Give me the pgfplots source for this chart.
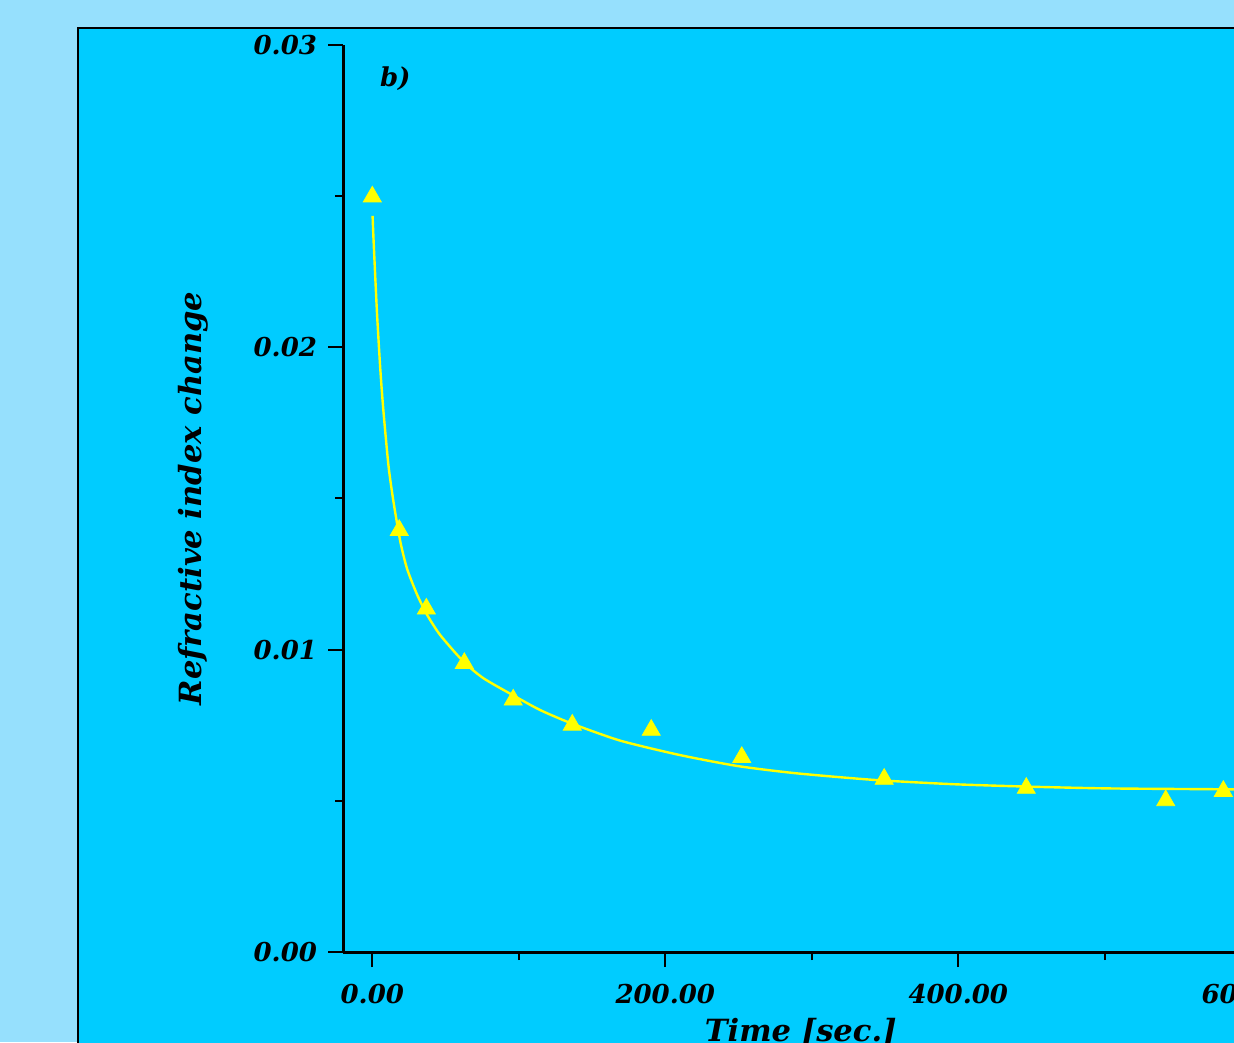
\documentclass[border=0pt]{standalone}
\usepackage{fontspec}
\setmainfont{DejaVu Serif}
\usepackage{pgfplots}
\pgfplotsset{compat=1.18}
\definecolor{outerbg}{HTML}{96E0FD}
\definecolor{innerbg}{HTML}{00CCFF}
\definecolor{fitcol}{HTML}{FFFF00}
\begin{document}
\begin{tikzpicture}
\useasboundingbox (0,0) rectangle (617pt,521pt);
\clip (0,0) rectangle (617pt,521pt);
\fill[outerbg] (0,0) rectangle (617pt,521pt);
\draw[line width=1pt, fill=innerbg] (39pt,507pt) rectangle (700pt,-50pt);
\begin{axis}[
    at={(171.5pt,45pt)}, anchor=south west,
    scale only axis, width=457.8pt, height=453.5pt,
    xmin=-20, xmax=605, ymin=0, ymax=0.03,
    axis x line*=bottom, axis y line*=left,
    axis line style={-, line width=1.5pt},
    xtick={0,200,400,600}, minor xtick={100,300,500},
    ytick={0,0.01,0.02,0.03}, minor ytick={0.005,0.015,0.025},
    scaled y ticks=false, scaled x ticks=false,
    tick align=outside,
    major tick length=7.5pt, minor tick length=4pt,
    tick style={black, line width=1pt},
    ticklabel style={font=\fontsize{13}{15}\selectfont\bfseries\itshape},
    xticklabel style={yshift=-5pt},
    yticklabel style={xshift=-2pt},
    /pgf/number format/.cd, fixed, fixed zerofill, precision=2, assume math mode=true,
    /pgfplots/.cd,
    every axis y label/.style={at={(axis description cs:-0.1638,0.5)}, rotate=90, anchor=center},
    every axis x label/.style={at={(axis description cs:0.5,-0.0882)}, anchor=center},
    label style={font=\fontsize{15.3}{18}\selectfont\bfseries\itshape},
    xlabel={Time [sec.]},
    ylabel={Refractive index change},
    clip=false,
]
% fitted curve
\addplot[fitcol, line width=1.2pt, smooth, tension=0.4] coordinates {
    (0.2,0.02435)(0.9,0.02350)(3.2,0.02114)(5.5,0.01925)(7.7,0.01783)
    (11.1,0.01606)(14.5,0.01488)(19.1,0.01358)(23.7,0.01268)(30.5,0.01183)
    (37.3,0.01116)(46.4,0.01048)(62.3,0.00960)(76.0,0.00905)(96.5,0.00848)
    (114.7,0.00800)(136.5,0.00755)(169.3,0.00699)(209.4,0.00652)(249.5,0.00615)
    (289.6,0.00591)(343.0,0.00569)(396.5,0.00555)(447.2,0.00547)(503.3,0.00541)
    (588.4,0.00538)(605,0.00537)
};
% measured points
\addplot[only marks, mark=triangle*, mark size=5.2pt,
    mark options={draw=fitcol, fill=fitcol, line width=0.4pt}] coordinates {
    (0,0.02498)(18.4,0.01395)(36.9,0.01135)(62.8,0.00955)(96.2,0.00834)
    (136.5,0.00751)(190.4,0.00734)(252.2,0.00644)(349.4,0.00572)(446.4,0.00542)
    (541.6,0.00501)(580.9,0.00532)
};
\node[font=\fontsize{13}{16}\selectfont\bfseries\itshape] at (axis cs:15.7,0.0289) {b)};
\end{axis}
\end{tikzpicture}
\end{document}
